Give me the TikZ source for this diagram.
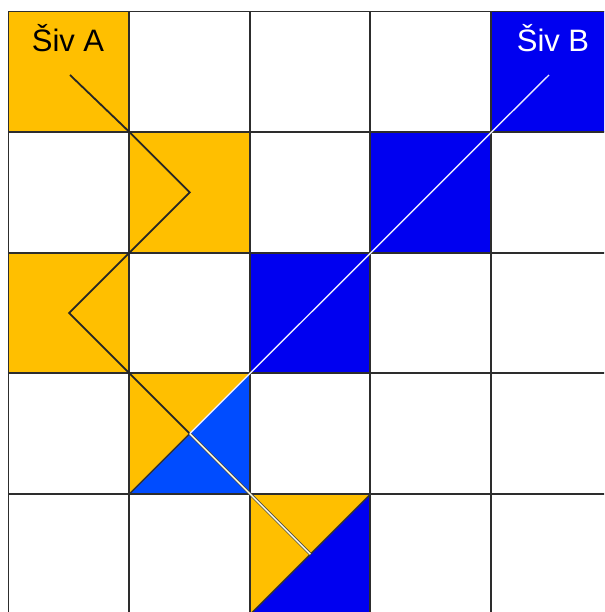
\documentclass[tikz,border=0pt]{standalone}
\usepackage{fontspec}
\setmainfont{Liberation Sans}
\definecolor{gold}{RGB}{255,191,0}
\definecolor{deepblue}{RGB}{0,0,240}
\definecolor{lightblue}{RGB}{0,76,255}
\definecolor{gridgray}{RGB}{45,45,45}
\newcommand\cellfill[3]{\fill[#3] ({8.5+#1*120.6},{11.5+#2*120.6}) rectangle ++(120.6,120.6);}
\begin{document}
\begin{tikzpicture}[x=1pt,y=-1pt,
  gridline/.style={draw=gridgray,line width=1.9pt},
  threadA/.style={draw=black!85,line width=1.8pt,line join=miter},
  threadW/.style={draw=white!92!blue,line width=1.4pt},
  edgeline/.style={draw=black!80,line width=1.5pt},
  label/.style={font=\fontsize{31}{36}\selectfont,anchor=base,inner sep=0pt}]
\useasboundingbox (0,0) rectangle (604,612);
\clip (0,0) rectangle (604,612);
% fills
\fill[white] (0,0) rectangle (604,612);
\cellfill{0}{0}{gold}
\cellfill{4}{0}{deepblue}
\cellfill{1}{1}{gold}
\cellfill{3}{1}{deepblue}
\cellfill{0}{2}{gold}
\cellfill{2}{2}{deepblue}
% split cells
\fill[gold] (129.5,373.3) -- (250.1,373.3) -- (129.5,493.9) -- cycle;
\fill[lightblue] (250.1,373.3) -- (250.1,493.9) -- (129.5,493.9) -- cycle;
\fill[gold] (250.1,493.9) -- (370.7,493.9) -- (250.1,614.5) -- cycle;
\fill[deepblue] (370.7,493.9) -- (370.7,614.5) -- (250.1,614.5) -- cycle;
% grid
\foreach \i in {0,...,5} {
  \draw[gridline] ({8.5+\i*120.6},11.5) -- ({8.5+\i*120.6},620);
  \draw[gridline] (8.5,{11.5+\i*120.6}) -- (620,{11.5+\i*120.6});
}
% coordinates
\coordinate (a0) at (70,75);
\coordinate (k1) at (129.5,132.1);
\coordinate (c11) at (189.8,192.4);
\coordinate (k2) at (129.5,252.7);
\coordinate (c02) at (69.1,313);
\coordinate (k3) at (129.5,373.3);
\coordinate (c13) at (189.8,433.6);
\coordinate (k4) at (250.1,493.9);
\coordinate (c24) at (310.4,554.2);
\coordinate (b0) at (549,75);
\coordinate (m1) at (491.5,132.1);
\coordinate (m2) at (370.9,252.7);
\coordinate (m3) at (250.1,373.3);
\coordinate (bl13) at (129.5,493.9);
\coordinate (tr24) at (370.7,493.9);
\coordinate (bl24) at (250.1,614.5);
% triangle edges
\draw[edgeline] (bl13) -- (c13);
\draw[edgeline] (tr24) -- (bl24);
% thread A
\draw[threadA] (a0) -- (k1) -- (c11) -- (k2) -- (c02) -- (k3) -- (c13);
\draw[draw=black!70,line width=3pt] (c13) -- (k4) -- (c24);
\draw[draw=white!90!yellow,line width=1.4pt] (c13) -- (k4) -- (c24);
% thread B
\draw[threadW] (b0) -- (m1) -- (m2) -- (m3) -- (c13);
% labels
\node[label,text=black] (la) at (68,52) {Šiv A};
\node[label,text=white] (lb) at (553,52) {Šiv B};
\end{tikzpicture}
\end{document}
